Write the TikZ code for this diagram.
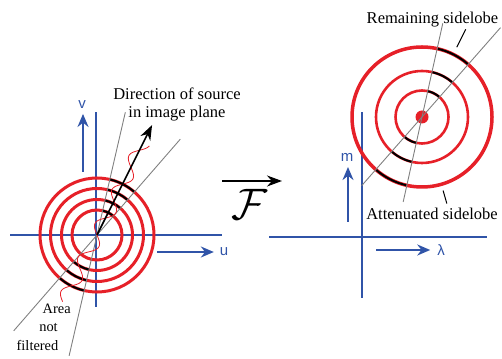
\documentclass[tikz,border=0pt]{standalone}
\usepackage{fontspec}
\setmainfont{Liberation Serif}
\newfontfamily\axisfont{Liberation Sans}
\usepackage{graphicx}
\usepackage{tikz}
\usetikzlibrary{arrows.meta}

\definecolor{lobered}{RGB}{230,32,40}
\definecolor{axisblue}{RGB}{48,84,168}
\definecolor{cutgray}{RGB}{128,128,128}

\begin{document}
\begin{tikzpicture}[x=1pt, y=1pt, outer sep=0pt,
    every node/.style={inner sep=0pt, font=\fontsize{16.5}{18.5}\selectfont},
    axis/.style={draw=axisblue, line width=1.1pt},
    axisarrow/.style={draw=axisblue, fill=axisblue, line width=2pt, -{Stealth[length=13pt, width=11pt]}},
    axislabel/.style={text=axisblue, inner sep=1pt, font=\axisfont\fontsize{15}{15}\selectfont},
    cut/.style={draw=cutgray, line width=0.9pt},
    lobe/.style={draw=lobered, line width=3pt},
    kept/.style={draw=black, line width=2pt}]
    \useasboundingbox (0,0) rectangle (502,358);
    \coordinate (lc) at (97,123);
    \coordinate (rc) at (422,241);

    \draw[axis] (10,123) -- (222,123);
    \draw[axis] (96,51) -- (96,246);
    \foreach \r in {25,35.5,46.5,57} \draw[lobe] (lc) circle[radius=\r];
    \foreach \r in {25,35.5,46.5,57} \draw[kept] (lc) ++(49:\r) arc[start angle=49, end angle=77, radius=\r];
    \foreach \r in {35.5,46.5,57} \draw[kept] (lc) ++(229:\r) arc[start angle=229, end angle=257, radius=\r];
    \draw[cut] (lc) ++(77:126) -- ++(257:250);
    \draw[cut] (lc) ++(49:127) -- ++(229:254);
    \begin{scope}[shift={(lc)}, rotate=63.4]
        \draw[lobered, line width=0.8pt] plot[domain=-75:103, samples=160, smooth] (\x, {7*sin(\x*9.5)});
    \end{scope}
    \coordinate (srctip) at ([shift={(63.4:123)}]lc);
    \draw[line width=1.6pt, -{Stealth[length=15pt, width=11pt]}] (lc) -- (srctip);

    \node[axislabel] (vlabel) at (82,253) {v};
    \coordinate (vtail) at (83,186);
    \draw[axisarrow, shorten >=4pt] (vtail) -- (vtail |- vlabel.south);
    \node[axislabel] (ulabel) at (224,106) {u};
    \coordinate (utail) at (157,106);
    \draw[axisarrow, shorten >=5pt] (utail) -- (ulabel.west);

    \node[align=center] (dirlabel) at (177,253.7) {Direction of source\\in image plane};
    \node[align=left, anchor=north west, font=\fontsize{14.4}{18.5}\selectfont] (arealabel) at (16.7,54.5) {\hspace*{26pt}Area\\\hspace*{22.6pt}not\\filtered};

    \node[font=\Huge] (fmap) at (250,154) {\scalebox{1.77}{$\mathcal{F}$}};
    \coordinate (ftail) at (222,177);
    \coordinate (fhead) at (282,177);
    \draw[line width=1.6pt, -{Stealth[length=15pt, width=11pt]}] (ftail) -- (fhead);

    \draw[axis] (269,121) -- (487,121);
    \draw[axis] (362,60) -- (362,246);
    \draw[lobe, line width=3.5pt] (rc) circle[radius=70];
    \foreach \r in {26.5,46} \draw[lobe, line width=2.6pt] (rc) circle[radius=\r];
    \foreach \r in {26.5,46,70} {
        \draw[kept] (rc) ++(49:\r) arc[start angle=49, end angle=77, radius=\r];
        \draw[kept] (rc) ++(229:\r) arc[start angle=229, end angle=257, radius=\r];
    }
    \fill[lobered] (rc) circle[radius=6.5];
    \draw[cut] (rc) ++(77.5:96) -- ++(257.5:183);
    \draw[cut] (rc) ++(48.7:119) -- ++(228.7:210.5);

    \node[anchor=base] (remlabel) at (432.5,334.7) {Remaining sidelobe};
    \node[anchor=base] (attlabel) at (432,138) {Attenuated sidelobe};
    \draw[line width=1pt] (rc) ++(63.5:78) -- ++(63.5:20);
    \draw[line width=1pt] (rc) ++(-74:76.5) -- ++(-74:13.5);

    \node[axislabel] (mlabel) at (347,201) {m};
    \coordinate (mtail) at (348,136);
    \draw[axisarrow, shorten >=5pt] (mtail) -- (mtail |- mlabel.south);
    \node[axislabel] (lamlabel) at (441,108) {λ};
    \coordinate (lamtail) at (376,108);
    \draw[axisarrow, shorten >=6pt] (lamtail) -- (lamlabel.west);
\end{tikzpicture}
\end{document}
